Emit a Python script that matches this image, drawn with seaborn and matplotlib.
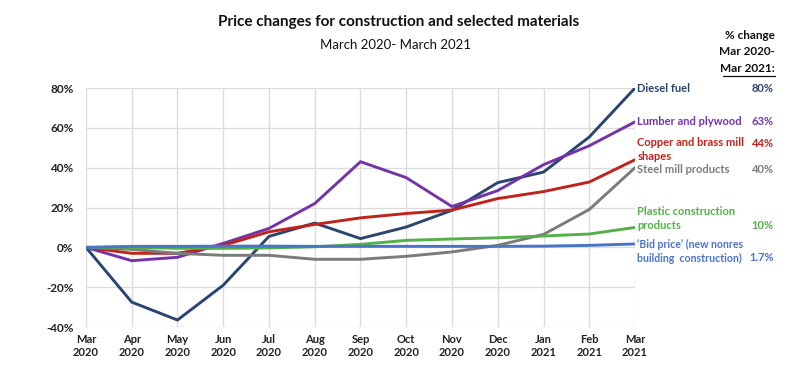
import matplotlib
matplotlib.use("Agg")
import matplotlib.pyplot as plt
from matplotlib.lines import Line2D
import seaborn as sns
import pandas as pd

months = ["Mar\n2020", "Apr\n2020", "May\n2020", "Jun\n2020", "Jul\n2020", "Aug\n2020",
          "Sep\n2020", "Oct\n2020", "Nov\n2020", "Dec\n2020", "Jan\n2021", "Feb\n2021", "Mar\n2021"]

diesel = [0, -27.5, -36.5, -19, 5.5, 12.2, 4.4, 10.2, 18.6, 32.5, 37.8, 55.4, 80]
lumber = [0, -6.7, -5, 2, 9.5, 22, 43, 35, 20.5, 28.5, 41.5, 51, 63]
copper = [0, -3, -3, 1, 7.8, 11.5, 14.8, 17, 18.7, 24.5, 28, 32.8, 44]
steel = [0, -1, -3, -4, -4, -6, -6, -4.5, -2.3, 1, 6.5, 19, 40]
plastic = [0, 0, -0.5, -0.5, -0.3, 0.3, 1.5, 3.5, 4.2, 4.8, 5.7, 6.7, 10]
bid = [0, 0.5, 0.5, 0.6, 0.6, 0.5, 0.5, 0.5, 0.5, 0.5, 0.6, 1.0, 1.7]

series_names = ["Diesel fuel", "Lumber and plywood", "Copper and brass mill shapes",
                "Steel mill products", "Plastic construction products", "Bid price"]
series_values = [diesel, lumber, copper, steel, plastic, bid]
series_colors = ["#2A4570", "#7434A8", "#C0231C", "#7B7B7B", "#53B04A", "#4A74C6"]

label_texts = ["Diesel fuel", "Lumber and plywood", "Copper and brass mill\nshapes",
               "Steel mill products", "Plastic construction\nproducts",
               "\u2018Bid price\u2019 (new nonres\nbuilding  construction)"]
label_y = [80, 63, 49, 39.3, 14.3, -2]
label_sizes = [8, 8, 8, 8, 8, 7.6]
value_texts = ["80%", "63%", "44%", "40%", "10%", "1.7%"]
value_y = [80, 63, 52.3, 39.3, 11, -5.3]

yticks = [-40, -20, 0, 20, 40, 60, 80]
ytick_labels = ["-40%", "-20%", "0%", "20%", "40%", "60%", "80%"]

rows = []
for name, vals in zip(series_names, series_values):
    for i, v in enumerate(vals):
        rows.append({"month": i, "value": v, "series": name})
df = pd.DataFrame(rows)

sns.set_theme(style="white")
plt.rcParams["font.family"] = ["Lato", "DejaVu Sans"]

fig = plt.figure(figsize=(8.11, 3.73), dpi=100)
ax = fig.add_axes([0.106, 0.1233, 0.677, 0.6407])

sns.lineplot(data=df, x="month", y="value", hue="series", hue_order=series_names,
             palette=series_colors, linewidth=2.1, legend=False, ax=ax, zorder=3)

ax.set_xlim(0, 12)
ax.set_ylim(-40, 80)
ax.set_xticks(range(13))
ax.set_xticklabels(months, fontsize=8, fontweight="bold", color="#222222")
ax.set_yticks(yticks)
ax.set_yticklabels(ytick_labels, fontsize=8.5, fontweight="bold", color="#222222")
ax.tick_params(axis="x", length=0, pad=5)
ax.tick_params(axis="y", length=0, pad=9)
ax.set_xlabel("")
ax.set_ylabel("")
ax.grid(True, color="#DCDCDC", linewidth=1)
for s in ax.spines.values():
    s.set_visible(False)

for txt, y, c, fs in zip(label_texts, label_y, series_colors, label_sizes):
    ax.text(12.05, y, txt, fontsize=fs, fontweight="bold", color=c,
            va="center", ha="left", clip_on=False, linespacing=1.35)
for txt, y, c in zip(value_texts, value_y, series_colors):
    ax.text(15.03, y, txt, fontsize=8, fontweight="bold", color=c,
            va="center", ha="right", clip_on=False)

fig.text(0.492, 0.94, "Price changes for construction and selected materials",
         ha="center", va="center", fontsize=11, fontweight="bold", color="#111111")
fig.text(0.488, 0.88, "March 2020- March 2021", ha="center", va="center",
         fontsize=9.5, color="#111111")

fig.text(0.955, 0.906, "% change", ha="right", va="center", fontsize=8.5,
         fontweight="bold", color="#111111")
fig.text(0.955, 0.861, "Mar 2020-", ha="right", va="center", fontsize=8.5,
         fontweight="bold", color="#111111")
fig.text(0.955, 0.817, "Mar 2021:", ha="right", va="center", fontsize=8.5,
         fontweight="bold", color="#111111")
fig.add_artist(Line2D([0.891, 0.955], [0.795, 0.795], color="#111111", linewidth=0.9))

fig.savefig("out.png", dpi=100, facecolor="white")
